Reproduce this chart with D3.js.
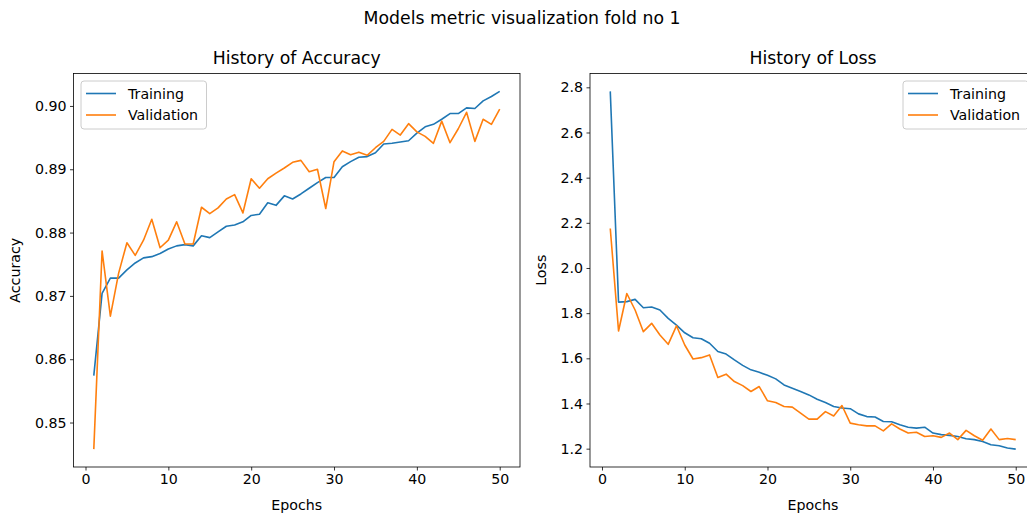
<!DOCTYPE html>
<html>
<head>
<meta charset="utf-8">
<script src="https://cdn.jsdelivr.net/npm/d3@7"></script>
<style>
  body { margin: 0; background: #fff; }
  svg { display: block; font-family: "DejaVu Sans", sans-serif; }
</style>
</head>
<body>
<div id="chart"></div>
<script>
// ---- data ----
const epochs = d3.range(1, 51);

const accTrain = [
  0.8574, 0.8704, 0.8728, 0.8728, 0.8741, 0.8752, 0.8760, 0.8762, 0.8767, 0.8774,
  0.8779, 0.8781, 0.8779, 0.8795, 0.8792, 0.8801, 0.8810, 0.8812, 0.8817, 0.8827,
  0.8829, 0.8847, 0.8843, 0.8858, 0.8853, 0.8861, 0.8870, 0.8879, 0.8887, 0.8887,
  0.8904, 0.8912, 0.8919, 0.8920, 0.8926, 0.8940, 0.8941, 0.8943, 0.8945, 0.8957,
  0.8967, 0.8971, 0.8979, 0.8988, 0.8988, 0.8997, 0.8996, 0.9008, 0.9015, 0.9023
];
const accVal = [
  0.8458, 0.8771, 0.8668, 0.8736, 0.8784, 0.8764, 0.8788, 0.8821, 0.8776, 0.8788,
  0.8817, 0.8782, 0.8782, 0.8840, 0.8830, 0.8839, 0.8853, 0.8860, 0.8831, 0.8885,
  0.8870, 0.8885, 0.8894, 0.8902, 0.8911, 0.8914, 0.8896, 0.8900, 0.8838, 0.8912,
  0.8929, 0.8923, 0.8927, 0.8922, 0.8934, 0.8944, 0.8963, 0.8954, 0.8972, 0.8959,
  0.8952, 0.8941, 0.8976, 0.8942, 0.8964, 0.8990, 0.8944, 0.8979, 0.8971, 0.8995
];
const lossTrain = [
  2.782, 1.849, 1.851, 1.861, 1.824, 1.827, 1.814, 1.777, 1.747, 1.713,
  1.691, 1.687, 1.667, 1.630, 1.619, 1.593, 1.569, 1.549, 1.538, 1.525,
  1.509, 1.482, 1.468, 1.453, 1.438, 1.419, 1.404, 1.387, 1.380, 1.377,
  1.354, 1.342, 1.340, 1.320, 1.319, 1.306, 1.295, 1.291, 1.295, 1.269,
  1.262, 1.259, 1.254, 1.244, 1.240, 1.232, 1.217, 1.213, 1.203, 1.198
];
const lossVal = [
  2.175, 1.721, 1.887, 1.814, 1.718, 1.755, 1.703, 1.662, 1.744, 1.659,
  1.597, 1.603, 1.615, 1.515, 1.530, 1.497, 1.479, 1.453, 1.475, 1.412,
  1.404, 1.387, 1.384, 1.357, 1.331, 1.331, 1.364, 1.345, 1.391, 1.313,
  1.306, 1.301, 1.301, 1.279, 1.310, 1.287, 1.269, 1.273, 1.254, 1.257,
  1.250, 1.269, 1.240, 1.281, 1.257, 1.237, 1.287, 1.240, 1.245, 1.240
];

const xTicks = [0, 10, 20, 30, 40, 50];
const accTicks = [0.85, 0.86, 0.87, 0.88, 0.89, 0.90];
const lossTicks = [1.2, 1.4, 1.6, 1.8, 2.0, 2.2, 2.4, 2.6, 2.8];
const seriesNames = ["Training", "Validation"];

// ---- layout ----
const W = 1027, H = 516;
const plotTop = 73.5, plotBottom = 467;
const colors = ["#1f77b4", "#ff7f0e"];

const svg = d3.select("#chart").append("svg")
  .attr("width", W)
  .attr("height", H);

svg.append("text")
  .attr("x", 522).attr("y", 24)
  .attr("text-anchor", "middle")
  .style("font-size", "17.3px")
  .text("Models metric visualization fold no 1");

// pad domain like matplotlib (5%)
function padded(ext) {
  const m = (ext[1] - ext[0]) * 0.05;
  return [ext[0] - m, ext[1] + m];
}

function panel(opts) {
  const x = d3.scaleLinear().domain(padded([1, 50])).range([opts.left, opts.right]);
  const y = d3.scaleLinear()
    .domain(padded(d3.extent(opts.a.concat(opts.b))))
    .range([plotBottom, plotTop]);

  const g = svg.append("g");

  g.append("text")
    .attr("x", (opts.left + opts.right) / 2).attr("y", 64)
    .attr("text-anchor", "middle")
    .style("font-size", "17.3px")
    .text(opts.title);

  // axes
  const xa = g.append("g")
    .attr("transform", `translate(0,${plotBottom})`)
    .call(d3.axisBottom(x).tickValues(xTicks).tickSize(3.5).tickPadding(3.5).tickFormat(d3.format("d")));
  const ya = g.append("g")
    .attr("transform", `translate(${opts.left},0)`)
    .call(d3.axisLeft(y).tickValues(opts.ticks).tickSize(3.5).tickPadding(3.5).tickFormat(d3.format(opts.fmt)));
  [xa, ya].forEach(a => {
    a.select(".domain").remove();
    a.selectAll("line").attr("stroke", "#000").attr("stroke-width", 0.8);
    a.selectAll("text").style("font-size", "14.2px").style("font-family", "DejaVu Sans").attr("fill", "#000");
  });

  g.append("text")
    .attr("x", (opts.left + opts.right) / 2).attr("y", 510)
    .attr("text-anchor", "middle")
    .style("font-size", "14.2px")
    .text("Epochs");

  g.append("text")
    .attr("transform", `translate(${opts.ylabX},${(plotTop + plotBottom) / 2}) rotate(-90)`)
    .attr("text-anchor", "middle")
    .style("font-size", "14.2px")
    .text(opts.ylabel);

  const clipId = "clip" + opts.left;
  g.append("clipPath").attr("id", clipId)
    .append("rect")
    .attr("x", opts.left).attr("y", plotTop)
    .attr("width", opts.right - opts.left).attr("height", plotBottom - plotTop);

  const line = d3.line().x((d, i) => x(epochs[i])).y(d => y(d));
  [opts.a, opts.b].forEach((s, i) => {
    g.append("path")
      .datum(s)
      .attr("clip-path", `url(#${clipId})`)
      .attr("fill", "none")
      .attr("stroke", colors[i])
      .attr("stroke-width", 1.6)
      .attr("stroke-linejoin", "round")
      .attr("d", line);
  });

  g.append("rect")
    .attr("x", opts.left).attr("y", plotTop)
    .attr("width", opts.right - opts.left).attr("height", plotBottom - plotTop)
    .attr("fill", "none").attr("stroke", "#000").attr("stroke-width", 0.8);

  // legend
  const lw = 125.5, lh = 48;
  const lx = opts.legendRight ? opts.right - 7.5 - lw : opts.left + 7.5;
  const ly = plotTop + 7.5;
  const leg = g.append("g").attr("transform", `translate(${lx},${ly})`);
  leg.append("rect")
    .attr("width", lw).attr("height", lh)
    .attr("rx", 3).attr("ry", 3)
    .attr("fill", "#fff").attr("fill-opacity", 0.8)
    .attr("stroke", "#ccc").attr("stroke-width", 1);
  seriesNames.forEach((n, i) => {
    const yy = 12.5 + i * 21.5;
    leg.append("line")
      .attr("x1", 5).attr("x2", 35).attr("y1", yy).attr("y2", yy)
      .attr("stroke", colors[i]).attr("stroke-width", 1.6);
    leg.append("text")
      .attr("x", 47).attr("y", yy + 5)
      .style("font-size", "14.2px")
      .text(n);
  });
}

panel({
  left: 73.5, right: 520, a: accTrain, b: accVal,
  ticks: accTicks, fmt: ".2f", title: "History of Accuracy",
  ylabel: "Accuracy", ylabX: 20, legendRight: false
});
panel({
  left: 590, right: 1036, a: lossTrain, b: lossVal,
  ticks: lossTicks, fmt: ".1f", title: "History of Loss",
  ylabel: "Loss", ylabX: 546, legendRight: true
});
</script>
</body>
</html>
